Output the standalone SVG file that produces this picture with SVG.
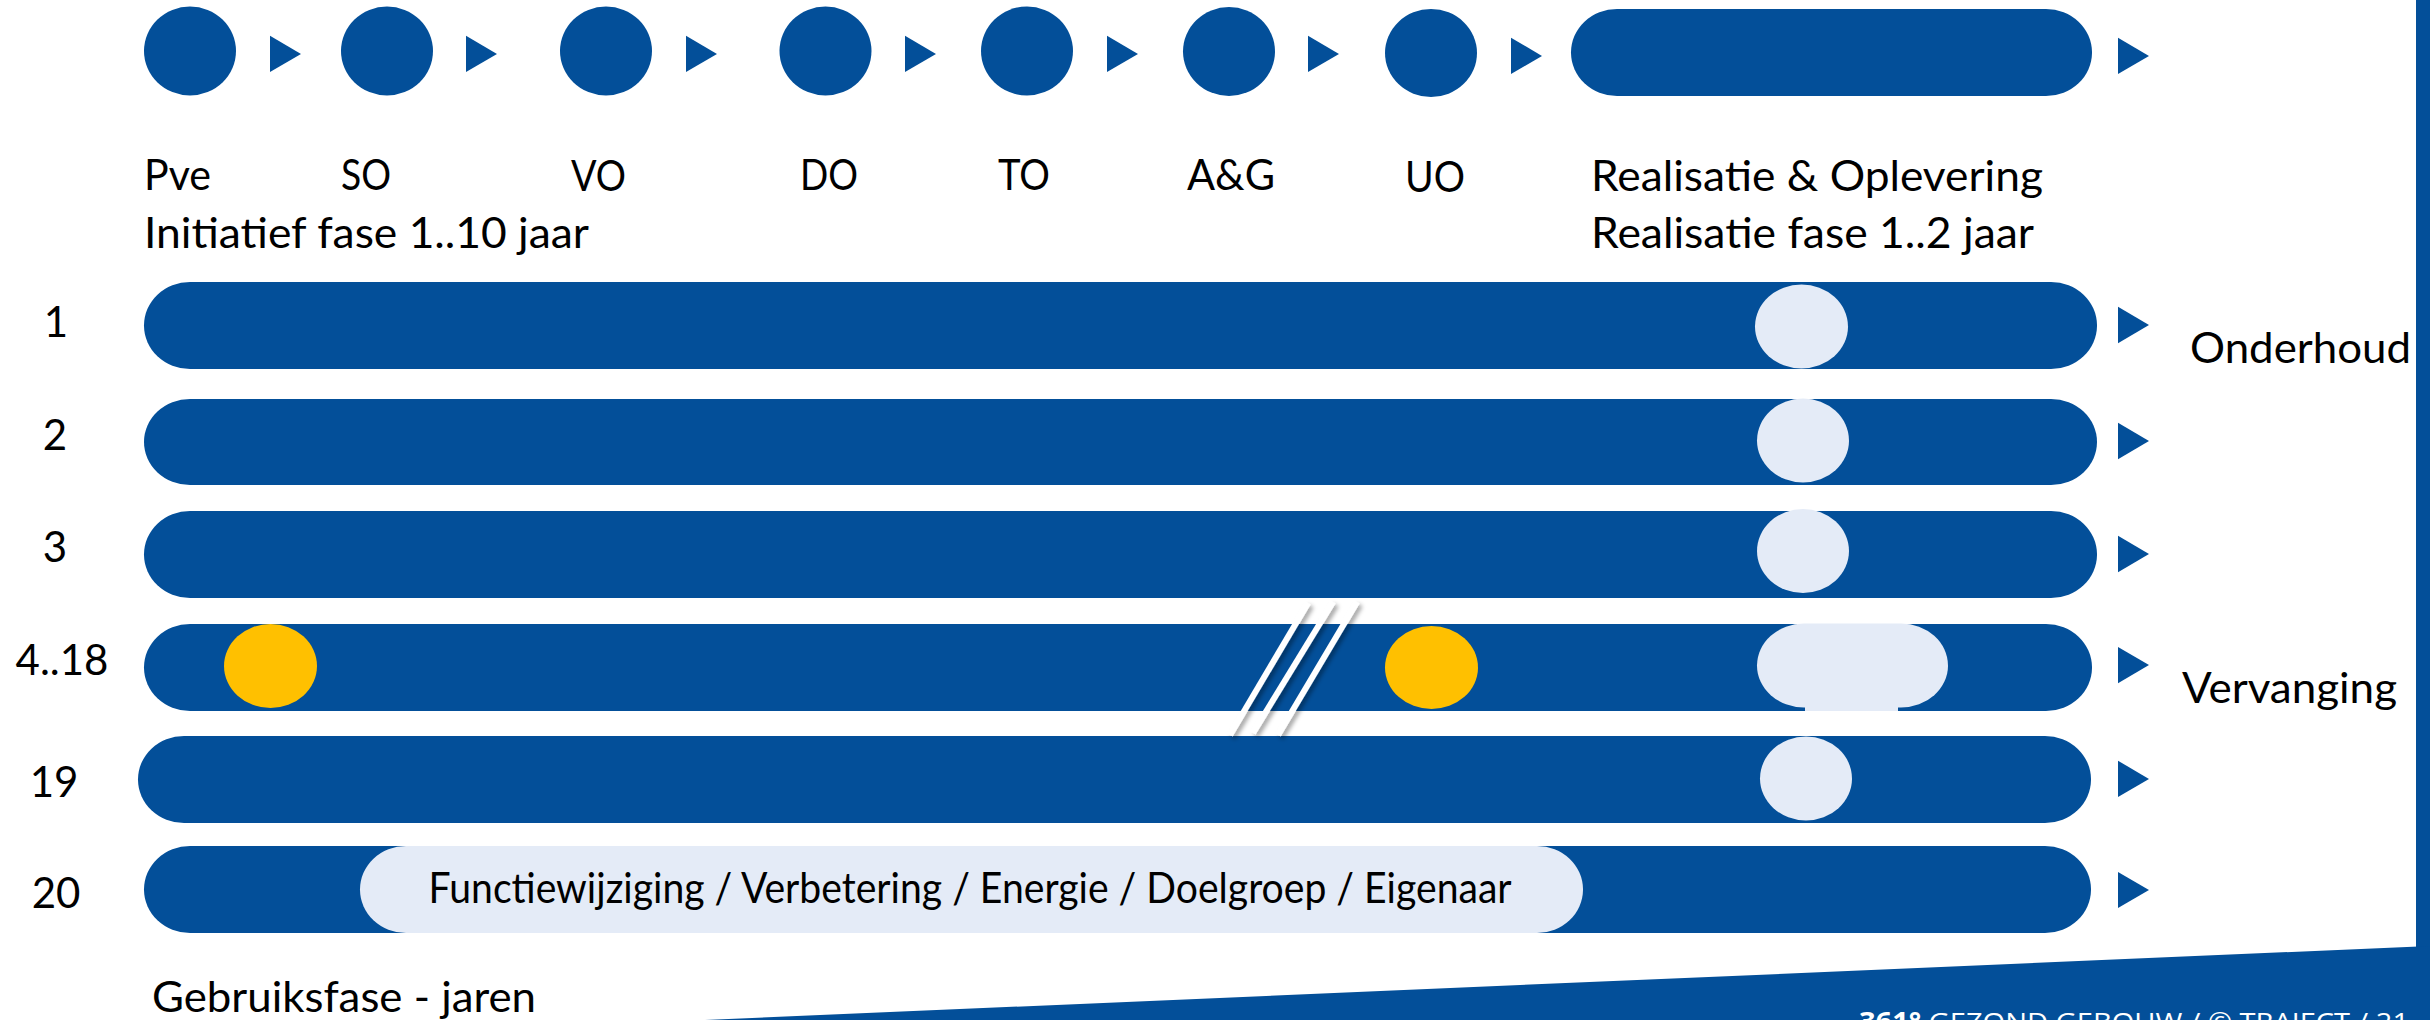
<svg xmlns="http://www.w3.org/2000/svg" width="2430" height="1020" viewBox="0 0 2430 1020">
<defs>
<style>
.b{fill:#034F99}
.l{fill:#E4EBF7}
.y{fill:#FFC000}
.t{font-family:Lato,"Open Sans","Liberation Sans",sans-serif;font-size:42px;fill:#000}
.lab{font-family:Lato,"Open Sans","Liberation Sans",sans-serif;font-size:42px;fill:#000;text-anchor:middle}
.ft{font-family:"Open Sans","Liberation Sans",sans-serif;font-size:26px;fill:#fff}
.sl{stroke:#fff;stroke-width:6;fill:none}
</style>
<filter id="sh" x="-50%" y="-50%" width="200%" height="200%">
<feDropShadow dx="3" dy="3" stdDeviation="2" flood-color="#000" flood-opacity="0.35"/>
</filter>
</defs>
<rect width="2430" height="1020" fill="#fff"/>

<!-- frame / background shapes -->
<rect class="b" x="2416" y="0" width="14" height="948"/>
<polygon class="b" points="705,1020 2430,946 2430,1020"/>
<text class="ft" x="1859" y="1031" textLength="550" lengthAdjust="spacingAndGlyphs"><tspan font-weight="bold">361°</tspan> GEZOND GEBOUW  /  © TRAJECT / 21</text>

<!-- top phase nodes -->
<g id="node-pve"><ellipse class="b" cx="190" cy="51" rx="46" ry="44.5"/><text class="t" x="144" y="190" textLength="67" lengthAdjust="spacingAndGlyphs">Pve</text></g>
<g id="node-so"><ellipse class="b" cx="387" cy="51" rx="46" ry="44.5"/><text class="t" x="341" y="190" textLength="50" lengthAdjust="spacingAndGlyphs">SO</text></g>
<g id="node-vo"><ellipse class="b" cx="606" cy="51" rx="46" ry="44.5"/><text class="t" x="571" y="191" textLength="55" lengthAdjust="spacingAndGlyphs">VO</text></g>
<g id="node-do"><ellipse class="b" cx="825.5" cy="51" rx="46" ry="44.5"/><text class="t" x="800" y="190" textLength="58" lengthAdjust="spacingAndGlyphs">DO</text></g>
<g id="node-to"><ellipse class="b" cx="1027" cy="51" rx="46" ry="44.5"/><text class="t" x="998" y="190" textLength="52" lengthAdjust="spacingAndGlyphs">TO</text></g>
<g id="node-ag"><ellipse class="b" cx="1229" cy="51.5" rx="46" ry="44.5"/><text class="t" x="1187" y="190" textLength="88" lengthAdjust="spacingAndGlyphs">A&amp;G</text></g>
<g id="node-uo"><ellipse class="b" cx="1431" cy="53" rx="46" ry="44"/><text class="t" x="1405" y="192" textLength="60" lengthAdjust="spacingAndGlyphs">UO</text></g>
<g id="node-realisatie"><rect class="b" x="1571" y="9" width="521" height="87" rx="46" ry="43.5"/><text class="t" x="1591" y="191" textLength="452" lengthAdjust="spacingAndGlyphs">Realisatie &amp; Oplevering</text><text class="t" x="1591" y="248" textLength="443" lengthAdjust="spacingAndGlyphs">Realisatie fase 1..2 jaar</text></g>
<g id="label-initiatief"><text class="t" x="144" y="248" textLength="445" lengthAdjust="spacingAndGlyphs">Initiatief fase 1..10 jaar</text></g>

<!-- usage rows -->
<g id="row-1">
<rect class="b" x="144" y="282" width="1953" height="87" rx="46" ry="43.5"/>
<ellipse class="l" cx="1801.5" cy="326.5" rx="46.5" ry="42"/>
<text class="lab" x="56" y="337">1</text>
<text class="t" x="2190" y="363" textLength="221" lengthAdjust="spacingAndGlyphs">Onderhoud</text>
</g>
<g id="row-2">
<rect class="b" x="144" y="399" width="1953" height="86" rx="46" ry="43"/>
<ellipse class="l" cx="1803" cy="440.5" rx="46" ry="42"/>
<text class="lab" x="55" y="450">2</text>
</g>
<g id="row-3">
<rect class="b" x="144" y="511" width="1953" height="87" rx="46" ry="43.5"/>
<ellipse class="l" cx="1803" cy="551" rx="46" ry="42"/>
<text class="lab" x="55" y="562">3</text>
</g>
<g id="row-4">
<rect class="b" x="144" y="624" width="1948" height="87" rx="46" ry="43.5"/>
<ellipse class="y" cx="270.5" cy="666" rx="46.5" ry="42"/>
<ellipse class="y" cx="1431.5" cy="667.5" rx="46.5" ry="41.5"/>
<rect class="l" x="1757" y="623.5" width="191" height="84" rx="47" ry="42"/>
<rect class="l" x="1805" y="624" width="93" height="87"/>
<text class="lab" x="62" y="675">4..18</text>
<text class="t" x="2182" y="703" textLength="215" lengthAdjust="spacingAndGlyphs">Vervanging</text>
</g>
<g id="row-19">
<rect class="b" x="138" y="736" width="1953" height="87" rx="46" ry="43.5"/>
<ellipse class="l" cx="1806" cy="778.5" rx="46" ry="42"/>
<text class="lab" x="54" y="797">19</text>
</g>
<g id="row-20">
<rect class="b" x="144" y="846" width="1947" height="87" rx="46" ry="43.5"/>
<rect class="l" x="360" y="846" width="1223" height="87" rx="46" ry="43.5"/>
<text class="t" x="428.6" y="903" font-size="36" textLength="1083" lengthAdjust="spacingAndGlyphs">Functiewijziging / Verbetering / Energie / Doelgroep / Eigenaar</text>
<text class="lab" x="56" y="908">20</text>
</g>
<g id="label-gebruiksfase"><text class="t" x="152" y="1012" textLength="384" lengthAdjust="spacingAndGlyphs">Gebruiksfase - jaren</text></g>

<!-- break marks -->
<g id="break" filter="url(#sh)">
<line class="sl" x1="1308" y1="603" x2="1230" y2="735"/>
<line class="sl" x1="1333" y1="602" x2="1253" y2="733"/>
<line class="sl" x1="1357" y1="602" x2="1278" y2="735"/>
</g>

<!-- connectors (chevrons) -->
<g id="connectors" class="b">
<polygon points="270,35.7 301,54 270,72"/>
<polygon points="466,35.7 497,54 466,72"/>
<polygon points="686,35.7 717,54 686,72"/>
<polygon points="905,35.7 936,54 905,72"/>
<polygon points="1107,35.7 1138,54 1107,72"/>
<polygon points="1308,35.7 1339,54 1308,72"/>
<polygon points="1511,37.7 1542,56 1511,74"/>
<polygon points="2118,37.7 2149,56 2118,74"/>
<polygon points="2118,306.7 2149,325 2118,343.3"/>
<polygon points="2118,422.7 2149,441 2118,459.3"/>
<polygon points="2118,535.7 2149,554 2118,572.3"/>
<polygon points="2118,647 2149,665 2118,683.3"/>
<polygon points="2118,760.7 2149,779 2118,797"/>
<polygon points="2118,872 2149,890 2118,908"/>
</g>
</svg>
